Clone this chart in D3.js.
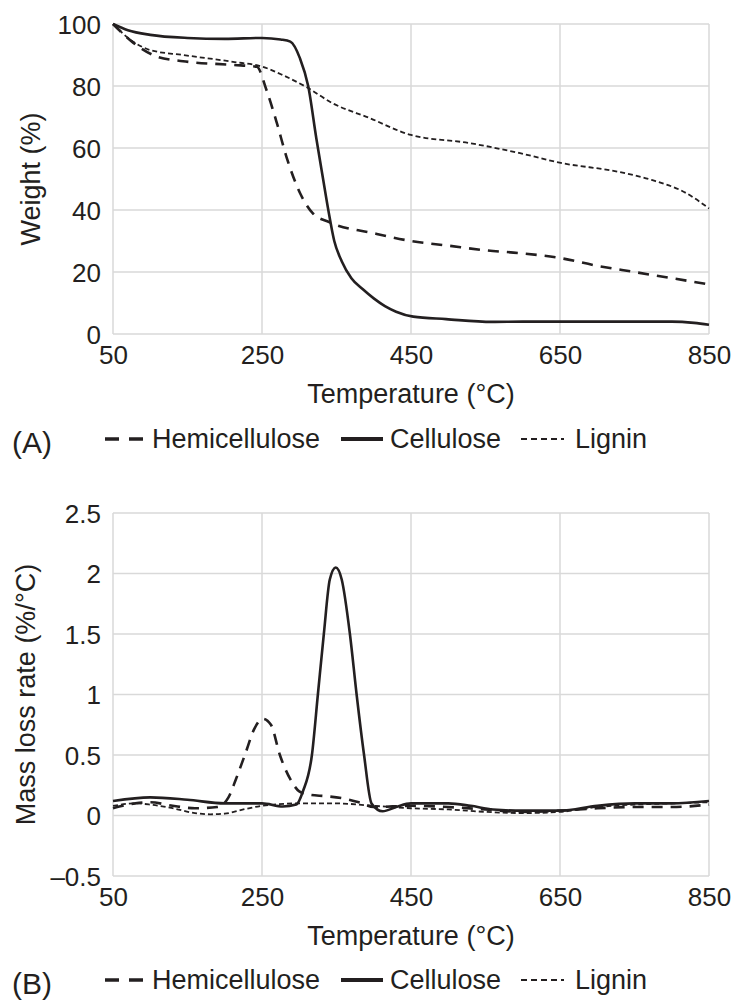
<!DOCTYPE html>
<html>
<head>
<meta charset="utf-8">
<script src="https://cdn.jsdelivr.net/npm/d3@7"></script>
<style>
    body { margin: 0; background: #fff; }
    svg text { font-family: "Liberation Sans", Arial, sans-serif; fill: #231f20; }
</style>
</head>
<body>
<div id="fig"></div>
<script>
// TGA / DTG curves
var xTicks = [50, 250, 450, 650, 850];
var weightTicks = [0, 20, 40, 60, 80, 100];
var rateTicks = [-0.5, 0, 0.5, 1, 1.5, 2, 2.5];
var seriesNames = ["Hemicellulose", "Cellulose", "Lignin"];

// (A) weight (%)
var hemiWeight = [[50,100],[77,94],[109,89.5],[144,88],[211,86.8],[243,86.2],[256,78.7],[270,68],[283,57],[301,45.5],[318,39],[341,36],[400,32.5],[450,30],[500,28.5],[550,27],[600,26],[650,24.5],[700,22],[750,20],[800,18],[850,16]];
var celluWeight = [[50,100],[70,98],[100,96.5],[150,95.5],[200,95.2],[250,95.5],[275,95],[288,94.3],[301,88.9],[312,80],[323,63],[332,50],[339,40],[347,30],[357,23.5],[370,18],[385,14.5],[400,11.5],[415,9],[430,7.2],[453,5.6],[497,4.8],[559,3.9],[600,4],[650,4],[700,4],[750,4],[800,4],[830,3.6],[850,3]];
var ligninWeight = [[50,100],[77,94.3],[100,91.6],[144,90],[211,87.8],[251,86.2],[278,83.5],[310,79.6],[345,74.4],[393,69.8],[450,64.2],[528,61.6],[595,58.4],[651,55.2],[729,52.3],[773,49.7],[819,45.5],[850,40.5]];

// (B) mass loss rate (%/°C)
var hemiRate = [[50,0.06],[80,0.1],[100,0.11],[130,0.08],[160,0.06],[190,0.07],[205,0.15],[215,0.3],[227,0.5],[240,0.72],[251,0.8],[262,0.75],[274,0.5],[288,0.3],[300,0.2],[315,0.17],[335,0.16],[360,0.14],[380,0.11],[400,0.07],[450,0.08],[500,0.07],[550,0.05],[600,0.03],[650,0.04],[700,0.06],[750,0.07],[800,0.07],[850,0.09]];
var celluRate = [[50,0.12],[100,0.15],[150,0.13],[200,0.1],[250,0.1],[278,0.075],[296,0.09],[305,0.2],[317,0.5],[325,1.0],[333,1.5],[341,1.95],[349,2.05],[357,1.95],[368,1.5],[377,1.0],[387,0.5],[397,0.1],[412,0.035],[430,0.07],[450,0.1],[500,0.1],[530,0.08],[560,0.05],[600,0.04],[650,0.04],[700,0.08],[750,0.1],[800,0.1],[850,0.12]];
var ligninRate = [[50,0.08],[80,0.1],[100,0.09],[130,0.06],[160,0.02],[180,0.01],[200,0.015],[225,0.05],[250,0.08],[300,0.1],[350,0.1],[400,0.08],[450,0.06],[500,0.05],[550,0.03],[600,0.02],[650,0.03],[700,0.07],[750,0.09],[800,0.1],[850,0.11]];

var styles = {
    "Hemicellulose": { width: 2.6, dash: "11,8" },
    "Cellulose":     { width: 2.6, dash: null },
    "Lignin":        { width: 1.8, dash: "5,3" }
};

var svg = d3.select("#fig").append("svg")
    .attr("width", 738)
    .attr("height", 1003);

var x = d3.scaleLinear().domain([50, 850]).range([113, 709]);

var fmt = function (d) {
    return (d < 0 ? "\u2013" : "") + String(Math.abs(d));
};

var drawPanel = function (cfg) {
    var y = d3.scaleLinear().domain(cfg.domain).range([cfg.bottom, cfg.top]);
    var g = svg.append("g");

    // grid
    g.selectAll(".hgrid").data(cfg.yTicks).enter().append("line")
	.attr("x1", x.range()[0]).attr("x2", x.range()[1])
	.attr("y1", function (d) { return y(d); })
	.attr("y2", function (d) { return y(d); })
	.attr("stroke", "#d9d9d9").attr("stroke-width", 1.5);
    g.selectAll(".vgrid").data(xTicks).enter().append("line")
	.attr("y1", cfg.top).attr("y2", cfg.bottom)
	.attr("x1", function (d) { return x(d); })
	.attr("x2", function (d) { return x(d); })
	.attr("stroke", "#d9d9d9").attr("stroke-width", 1.5);

    // axes (labels only, the frame is the grid)
    var yAxis = g.append("g")
	.attr("transform", "translate(" + x.range()[0] + ",0)")
	.call(d3.axisLeft(y).tickValues(cfg.yTicks).tickFormat(fmt).tickSize(0).tickPadding(12));
    yAxis.select(".domain").remove();
    yAxis.selectAll("text").style("font-size", "26px").attr("dy", "0.35em");

    var xAxis = g.append("g")
	.attr("transform", "translate(0," + cfg.bottom + ")")
	.call(d3.axisBottom(x).tickValues(xTicks).tickSize(0).tickPadding(12));
    xAxis.select(".domain").remove();
    xAxis.selectAll("text").style("font-size", "26px").attr("dy", "0.71em");

    g.append("text")
	.attr("x", (x.range()[0] + x.range()[1]) / 2)
	.attr("y", cfg.bottom + 60)
	.attr("dy", "0.35em")
	.attr("text-anchor", "middle")
	.style("font-size", "27px")
	.text("Temperature (\u00b0C)");

    g.append("text")
	.attr("transform", "translate(" + cfg.ylabelX + "," + ((cfg.top + cfg.bottom) / 2) + ") rotate(-90)")
	.attr("dy", "0.35em")
	.attr("text-anchor", "middle")
	.style("font-size", "27px")
	.text(cfg.ylabel);

    var line = d3.line()
	.x(function (d) { return x(d[0]); })
	.y(function (d) { return y(d[1]); })
	.curve(d3.curveMonotoneX);

    cfg.series.forEach(function (s, i) {
	var st = styles[seriesNames[i]];
	g.append("path")
	    .attr("d", line(s))
	    .attr("fill", "none")
	    .attr("stroke", "#231f20")
	    .attr("stroke-width", st.width)
	    .attr("stroke-dasharray", st.dash);
    });

    // panel letter + legend
    g.append("text")
	.attr("x", 12).attr("y", cfg.legendY + 3)
	.attr("dy", "0.35em")
	.style("font-size", "30px")
	.text(cfg.letter);

    var legendX = [[105, 145, 152], [341, 383, 390], [521, 564, 575]];
    seriesNames.forEach(function (name, i) {
	var lx = legendX[i];
	g.append("line")
	    .attr("x1", lx[0]).attr("x2", lx[1])
	    .attr("y1", cfg.legendY).attr("y2", cfg.legendY)
	    .attr("stroke", "#231f20")
	    .attr("stroke-width", name === "Cellulose" ? 4 : (name === "Hemicellulose" ? 3.5 : 2))
	    .attr("stroke-dasharray", name === "Hemicellulose" ? "14,10" : (name === "Lignin" ? "6,4" : null));
	g.append("text")
	    .attr("x", lx[2]).attr("y", cfg.legendY)
	    .attr("dy", "0.35em")
	    .style("font-size", "27px")
	    .text(name);
    });
};

drawPanel({
    domain: [0, 100], top: 24, bottom: 334,
    yTicks: weightTicks, ylabel: "Weight (%)", ylabelX: 31,
    series: [hemiWeight, celluWeight, ligninWeight],
    letter: "(A)", legendY: 439
});

drawPanel({
    domain: [-0.5, 2.5], top: 513, bottom: 876,
    yTicks: rateTicks, ylabel: "Mass loss rate (%/\u00b0C)", ylabelX: 26,
    series: [hemiRate, celluRate, ligninRate],
    letter: "(B)", legendY: 980
});
</script>
</body>
</html>
